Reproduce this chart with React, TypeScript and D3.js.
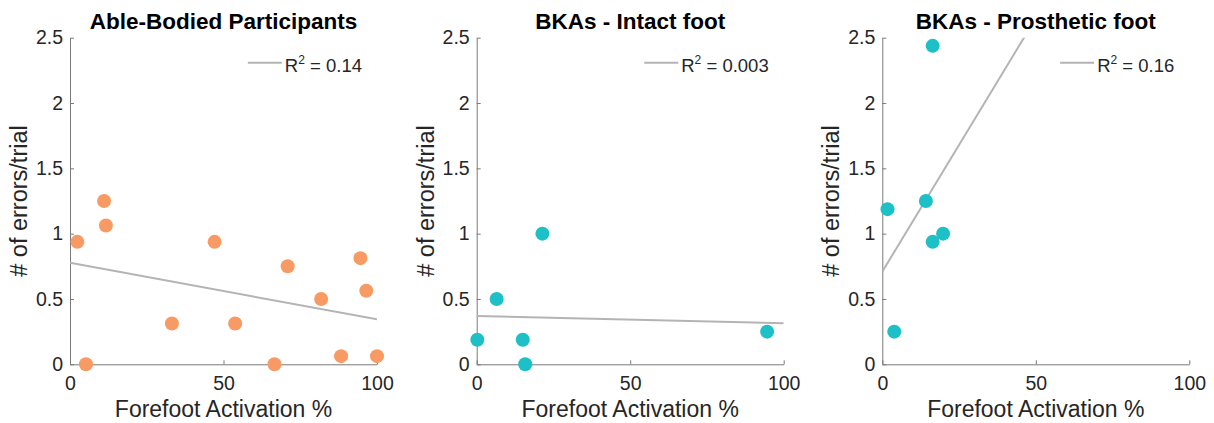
import React, { useRef, useEffect } from "react"
import * as d3 from "d3"

// panel titles and legend texts
const titles = ["Able-Bodied Participants", "BKAs - Intact foot", "BKAs - Prosthetic foot"]
const r2Labels = ["0.14", "0.003", "0.16"]

// forefoot activation % / errors per trial
const ableX = [2.4, 11.1, 11.7, 5.2, 33.2, 47.1, 53.8, 66.6, 70.9, 81.8, 88.3, 94.6, 96.5, 100]
const ableY = [0.9375, 1.25, 1.0625, 0, 0.3125, 0.9375, 0.3125, 0, 0.75, 0.5, 0.0625, 0.8125, 0.5625, 0.0625]

const intactX = [0.2, 6.5, 15, 15.8, 21.4, 94.6]
const intactY = [0.1875, 0.5, 0.1875, 0, 1.0, 0.25]

const prosthX = [16.4, 1.7, 14.2, 16.4, 19.8, 3.9]
const prosthY = [2.4375, 1.1875, 1.25, 0.9375, 1.0, 0.25]

// linear fit: intercept, slope
const fitIntercept = [0.778, 0.37, 0.709]
const fitSlope = [-0.00434, -0.00056, 0.0388]

const xTicks = [0, 50, 100]
const yTicks = [0, 0.5, 1, 1.5, 2, 2.5]

const colors = ["#F89A63", "#1CC0C6", "#1CC0C6"]
const seriesX = [ableX, intactX, prosthX]
const seriesY = [ableY, intactY, prosthY]

const App = () => {
  const ref = useRef(null)
  const width = 1214
  const height = 423
  const lefts = [70, 476.7, 882.3]
  const plotW = 307
  const top = 37.7
  const bottom = 364.3
  const font = "'Liberation Sans', Arial, Helvetica, sans-serif"
  const textColor = "#262626"
  const axisColor = "#7a7a7a"

  useEffect(() => {
    if (!ref.current) return
    const svg = d3.select(ref.current)
    svg.selectAll("*").remove()

    titles.forEach((title, i) => {
      const x = d3.scaleLinear().domain([0, 100]).range([lefts[i], lefts[i] + plotW])
      const y = d3.scaleLinear().domain([0, 2.5]).range([bottom, top])
      const g = svg.append("g")

      // clip for fit line
      g.append("clipPath")
        .attr("id", "clip" + i)
        .append("rect")
        .attr("x", x(0))
        .attr("y", y(2.5))
        .attr("width", x(100) - x(0))
        .attr("height", y(0) - y(2.5))

      // axes
      const xAxis = g.append("g").attr("transform", `translate(0,${bottom})`)
        .call(d3.axisBottom(x).tickValues(xTicks).tickSizeInner(-4).tickSizeOuter(0).tickPadding(10).tickFormat(d3.format("d")))
      const yAxis = g.append("g").attr("transform", `translate(${lefts[i]},0)`)
        .call(d3.axisLeft(y).tickValues(yTicks).tickSizeInner(-4).tickSizeOuter(0).tickPadding(7).tickFormat(d => String(d)))
      ;[xAxis, yAxis].forEach(a => {
        a.select(".domain").attr("stroke", axisColor).attr("stroke-width", 1)
        a.selectAll(".tick line").attr("stroke", axisColor)
        a.selectAll(".tick text").attr("fill", textColor).attr("font-size", 19.5).attr("font-family", font)
      })
      xAxis.selectAll(".tick text").attr("dy", null).attr("y", 26)

      // fit line
      g.append("line")
        .attr("clip-path", `url(#clip${i})`)
        .attr("x1", x(0))
        .attr("y1", y(fitIntercept[i]))
        .attr("x2", x(100))
        .attr("y2", y(fitIntercept[i] + fitSlope[i] * 100))
        .attr("stroke", "#b4b4b4")
        .attr("stroke-width", 2)

      // points
      g.append("g")
        .selectAll("circle")
        .data(seriesX[i].map((v, k) => [v, seriesY[i][k]]))
        .join("circle")
        .attr("cx", d => x(d[0]))
        .attr("cy", d => y(d[1]))
        .attr("r", 7)
        .attr("fill", colors[i])

      // title
      g.append("text")
        .attr("x", (x(0) + x(100)) / 2)
        .attr("y", 29)
        .attr("text-anchor", "middle")
        .attr("font-family", font)
        .attr("font-weight", "bold")
        .attr("font-size", 22.5)
        .attr("fill", "#000")
        .text(title)

      // axis labels
      g.append("text")
        .attr("x", (x(0) + x(100)) / 2)
        .attr("y", 417)
        .attr("text-anchor", "middle")
        .attr("font-family", font)
        .attr("font-size", 23)
        .attr("fill", textColor)
        .text("Forefoot Activation %")
      g.append("text")
        .attr("transform", `translate(${lefts[i] - 43},${(top + bottom) / 2}) rotate(-90)`)
        .attr("text-anchor", "middle")
        .attr("font-family", font)
        .attr("font-size", 23.5)
        .attr("fill", textColor)
        .text("# of errors/trial")

      // legend
      const lt = g.append("text")
        .attr("x", x(100) - 15)
        .attr("y", 71.7)
        .attr("text-anchor", "end")
        .attr("font-family", font)
        .attr("font-size", 18.5)
        .attr("fill", textColor)
      lt.append("tspan").text("R")
      lt.append("tspan").attr("font-size", 12).attr("dy", -8).text("2")
      lt.append("tspan").attr("dy", 8).text(" = " + r2Labels[i])
      const bb = lt.node().getBBox()
      g.append("line")
        .attr("x1", bb.x - 37)
        .attr("x2", bb.x - 3)
        .attr("y1", 62.7)
        .attr("y2", 62.7)
        .attr("stroke", "#b4b4b4")
        .attr("stroke-width", 2)
    })
  }, [])

  return (
    <svg
      ref={ref}
      width={width}
      height={height}
      style={{ position: "absolute", left: 0, top: 0, background: "#fff" }}
    />
  )
}

export default App
